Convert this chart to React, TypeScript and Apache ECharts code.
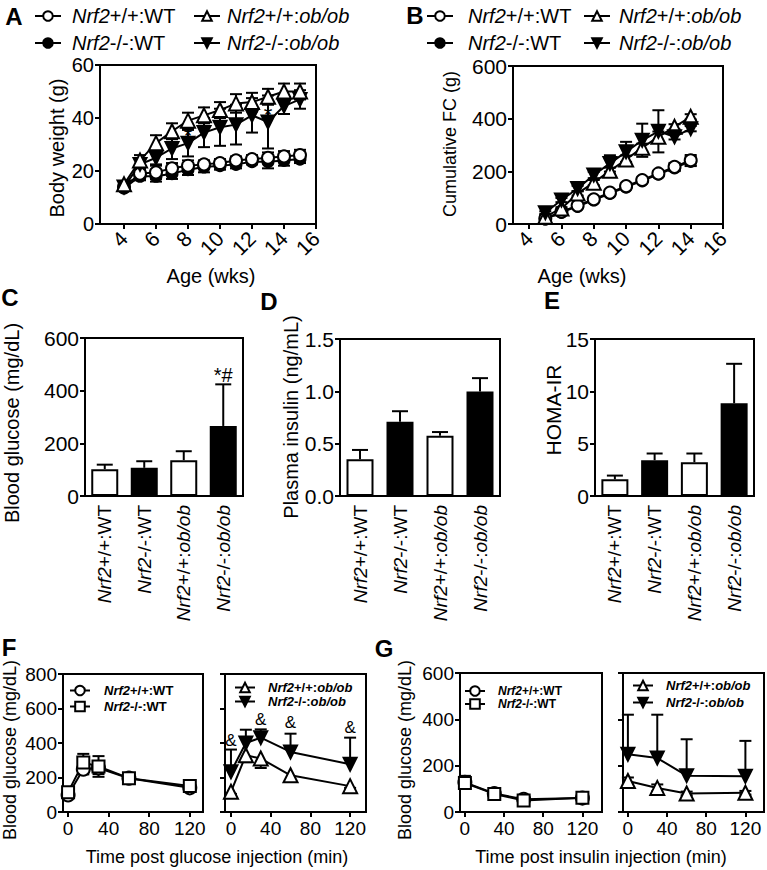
import React, { useEffect, useRef } from "react";
import * as echarts from "echarts";

const FONT = "'Liberation Sans', Arial, Helvetica, sans-serif";

// ---------- Panel A: body weight (g) ----------
const ageA = [4, 5, 6, 7, 8, 9, 10, 11, 12, 13, 14, 15];
const bwWT = [14, 19, 19.5, 21, 22, 22.5, 23, 24, 24.5, 25, 25.5, 26];
const bwWTerr = [1, 2, 2.5, 2, 2, 1.5, 1.5, 1.5, 1.5, 2, 2, 2];
const bwKO = [13.5, 18, 18, 19, 20.5, 21.5, 22, 22.5, 23.5, 23.5, 24, 24.5];
const bwKOerr = [1, 1.5, 2, 2, 2, 2, 1.5, 1.5, 1, 2.5, 2, 1.5];
const bwOb = [15, 24, 30.5, 35, 39, 41, 43, 45.5, 46, 48, 50, 50];
const bwObErr = [1, 2, 3, 3, 3, 3, 3, 3.5, 3.5, 3, 3, 3];
const bwKOob = [14, 22.5, 25, 28.5, 30.5, 34.5, 36.5, 37.5, 41, 38.5, 44.5, 47];
const bwKOobErr = [1, 2, 2.5, 4, 5, 5.5, 7, 7.5, 6.5, 10, 3, 3.5];
const starsA: [number, number, string][] = [[8, 33.5, "*"], [13, 41.5, "*"]];

// ---------- Panel B: cumulative food consumption (g) ----------
const ageB = [5, 6, 7, 8, 9, 10, 11, 12, 13, 14];
const fcWT = [21, 47, 70, 94, 119, 144, 167, 192, 217, 242];
const fcWTerr = [3, 3, 3, 4, 5, 5, 6, 8, 15, 20];
const fcKO = [19, 44, 67, 91, 116, 140, 164, 189, 213, 238];
const fcKOerr = [3, 3, 3, 4, 5, 5, 6, 8, 12, 18];
const fcOb = [28, 59, 116, 157, 202, 245, 290, 331, 369, 407];
const fcObErr = [5, 5, 8, 10, 12, 15, 15, 20, 10, 10];
const fcKOob = [43, 91, 135, 186, 230, 274, 318, 352, 331, 362];
const fcKOobErr = [5, 8, 10, 12, 31, 38, 63, 80, 10, 10];

// ---------- Panels C, D, E: bars ----------
const groups = ["Nrf2+/+:WT", "Nrf2-/-:WT", "Nrf2+/+:ob/ob", "Nrf2-/-:ob/ob"];
const groupFilled = [false, true, false, true];
const glucose = [102, 107, 136, 266];
const glucoseErr = [17, 25, 34, 158];
const starsC: [number, number, string][] = [[3, 458, "*#"]];
const insulin = [0.35, 0.71, 0.576, 0.998];
const insulinErr = [0.09, 0.1, 0.035, 0.128];
const homa = [1.6, 3.42, 3.23, 8.86];
const homaErr = [0.35, 0.64, 0.83, 3.77];

// ---------- Panel F: GTT ----------
const gttTime = [0, 15, 30, 60, 120];
const gttWT = [99, 248, 255, 196, 140];
const gttWTerr = [15, 30, 35, 15, 20];
const gttKO = [115, 287, 264, 196, 151];
const gttKOerr = [20, 50, 60, 20, 20];
const gttOb = [117, 329, 310, 213, 150];
const gttObErr = [12, 40, 55, 35, 10];
const gttKOob = [233, 400, 431, 348, 277];
const gttKOobErr = [129, 77, 48, 106, 154];
const ampF: [number, number, string][] = [[0, 412, "&"], [30, 539, "&"], [60, 516, "&"], [120, 487, "&"]];

// ---------- Panel G: ITT ----------
const ittTime = [0, 30, 60, 120];
const ittWT = [128, 80, 55, 60];
const ittWTerr = [28, 15, 10, 20];
const ittKO = [125, 78, 50, 62];
const ittKOerr = [25, 15, 10, 22];
const ittOb = [134, 104, 80, 83];
const ittObErr = [15, 15, 8, 8];
const ittKOob = [249, 233, 157, 154];
const ittKOobErr = [171, 187, 157, 153];

// tick values
const ageTicks = [4, 6, 8, 10, 12, 14, 16];
const minTicks = [0, 40, 80, 120];

// ---------- helpers ----------
function richName(s: string) {
  const rest = s.slice(4);
  if (rest.endsWith("ob/ob")) return `{i|Nrf2}{n|${rest.slice(0, -5)}}{i|ob/ob}`;
  return `{i|Nrf2}{n|${rest}}`;
}

const legendNames: Record<string, string> = {};

function lineSeries(name: string, display: string, gi: number, xs: number[], ys: number[], symbol: string, filled: boolean, size: number, rotate = 0) {
  legendNames[name] = display;
  return {
    type: "line",
    name,
    xAxisIndex: gi,
    yAxisIndex: gi,
    data: xs.map((x, i) => [x, ys[i]]),
    symbol,
    symbolSize: size,
    symbolRotate: rotate,
    showAllSymbol: true,
    lineStyle: { color: "#000", width: 2 },
    itemStyle: { color: filled ? "#000" : "#fff", borderColor: "#000", borderWidth: 2 },
    z: 3,
    silent: true,
  };
}

function errSeries(gi: number, xs: number[], ys: number[], errs: number[], mode: "both" | "up" | "down", cap: number) {
  const data = xs.map((x, i) => [x, mode === "up" ? ys[i] : ys[i] - errs[i], mode === "down" ? ys[i] : ys[i] + errs[i]]);
  return {
    type: "custom",
    xAxisIndex: gi,
    yAxisIndex: gi,
    data,
    z: 1,
    silent: true,
    renderItem: (_p: any, api: any) => {
      const x = api.value(0);
      const a = api.coord([x, api.value(1)]);
      const b = api.coord([x, api.value(2)]);
      const st = { stroke: "#000", lineWidth: 2 };
      const ch: any[] = [{ type: "line", shape: { x1: a[0], y1: a[1], x2: b[0], y2: b[1] }, style: st }];
      if (mode !== "down") ch.push({ type: "line", shape: { x1: b[0] - cap / 2, y1: b[1], x2: b[0] + cap / 2, y2: b[1] }, style: st });
      if (mode !== "up") ch.push({ type: "line", shape: { x1: a[0] - cap / 2, y1: a[1], x2: a[0] + cap / 2, y2: a[1] }, style: st });
      return { type: "group", children: ch };
    },
  };
}

function textSeries(gi: number, pts: [number, number, string][], fontSize: number) {
  return {
    type: "custom",
    xAxisIndex: gi,
    yAxisIndex: gi,
    data: pts.map((p) => [p[0], p[1]]),
    z: 5,
    silent: true,
    renderItem: (params: any, api: any) => {
      const c = api.coord([api.value(0), api.value(1)]);
      return {
        type: "text",
        x: c[0],
        y: c[1],
        style: {
          text: pts[params.dataIndex][2],
          fill: "#000",
          font: `${fontSize}px ${FONT}`,
          align: "center",
          verticalAlign: "middle",
          textAlign: "center",
          textVerticalAlign: "middle",
        },
      };
    },
  };
}

function barSeries(gi: number, vals: number[]) {
  return {
    type: "bar",
    xAxisIndex: gi,
    yAxisIndex: gi,
    barWidth: 27,
    data: vals.map((v, i) => ({ value: v, itemStyle: { color: groupFilled[i] ? "#000" : "#fff" } })),
    itemStyle: { borderColor: "#000", borderWidth: 2 },
    z: 2,
    silent: true,
  };
}

const axisLine = { show: true, onZero: false, lineStyle: { color: "#000", width: 2 } };
const tickStyle = { color: "#000", width: 2 };

function xVal(gi: number, min: number, max: number, ticks: number[], fontSize: number, rotate: number, margin: number) {
  return {
    type: "value",
    gridIndex: gi,
    min,
    max,
    axisLine,
    axisTick: { show: true, customValues: ticks, length: 5, lineStyle: tickStyle },
    axisLabel: { customValues: ticks, rotate, fontSize, color: "#000", fontFamily: FONT, margin },
    splitLine: { show: false },
  };
}

function xCat(gi: number) {
  return {
    type: "category",
    gridIndex: gi,
    data: groups,
    axisLine,
    axisTick: { show: false },
    axisLabel: {
      rotate: 90,
      margin: 9,
      interval: 0,
      formatter: (v: string) => richName(v),
      rich: {
        i: { fontStyle: "italic", fontSize: 19, fontFamily: FONT, color: "#000" },
        n: { fontSize: 19, fontFamily: FONT, color: "#000" },
      },
    },
    splitLine: { show: false },
  };
}

function yVal(gi: number, max: number, interval: number, fontSize: number, showLabel: boolean, digits = 0) {
  return {
    type: "value",
    gridIndex: gi,
    min: 0,
    max,
    interval,
    axisLine,
    axisTick: { show: true, length: 5, lineStyle: tickStyle },
    axisLabel: {
      show: showLabel,
      fontSize,
      color: "#000",
      fontFamily: FONT,
      margin: 6,
      formatter: (v: number) => v.toFixed(digits),
    },
    splitLine: { show: false },
  };
}

function legend(name: string, left: number, top: number, fontSize: number, bold: boolean, itemWidth: number, textPad: number) {
  const w = bold ? "bold" : "normal";
  const lh = Math.round(fontSize * 1.0);
  return {
    show: true,
    data: [name],
    left,
    top,
    padding: 0,
    itemWidth,
    itemHeight: 12,
    selectedMode: false,
    formatter: (n: string) => legendNames[n] || n,
    textStyle: {
      padding: [0, 0, 0, textPad],
      lineHeight: lh,
      rich: {
        i: { fontStyle: "italic", fontWeight: w, fontSize, fontFamily: FONT, color: "#000", lineHeight: lh },
        n: { fontWeight: w, fontSize, fontFamily: FONT, color: "#000", lineHeight: lh },
      },
    },
  };
}

function txt(text: string, x: number, y: number, fontSize: number, opts: any = {}) {
  return {
    type: "text",
    x,
    y,
    rotation: opts.rot || 0,
    style: {
      text,
      fill: "#000",
      font: `${opts.bold ? "bold " : ""}${fontSize}px ${FONT}`,
      align: "center",
      verticalAlign: "middle",
      textAlign: "center",
      textVerticalAlign: "middle",
    },
    silent: true,
  };
}

const grids = [
  { left: 100, top: 65, width: 216, height: 159 }, // A
  { left: 513, top: 66, width: 210, height: 158 }, // B
  { left: 85, top: 338, width: 158, height: 158 }, // C
  { left: 340, top: 339, width: 160, height: 157 }, // D
  { left: 595, top: 339, width: 159, height: 157 }, // E
  { left: 63, top: 674, width: 140, height: 138 }, // F left
  { left: 225, top: 674, width: 141, height: 138 }, // F right
  { left: 460, top: 673, width: 142, height: 139 }, // G left
  { left: 623, top: 673, width: 141, height: 139 }, // G right
].map((g) => ({ ...g, show: true, borderColor: "#000", borderWidth: 2, containLabel: false }));

function buildOption() {
  const series: any[] = [
    // A
    errSeries(0, ageA, bwKO, bwKOerr, "both", 12),
    errSeries(0, ageA, bwWT, bwWTerr, "both", 12),
    errSeries(0, ageA, bwKOob, bwKOobErr, "both", 12),
    errSeries(0, ageA, bwOb, bwObErr, "both", 12),
    lineSeries("A_ko", richName("Nrf2-/-:WT"), 0, ageA, bwKO, "circle", true, 11),
    lineSeries("A_wt", richName("Nrf2+/+:WT"), 0, ageA, bwWT, "circle", false, 12),
    lineSeries("A_koob", richName("Nrf2-/-:ob/ob"), 0, ageA, bwKOob, "triangle", true, 13, 180),
    lineSeries("A_ob", richName("Nrf2+/+:ob/ob"), 0, ageA, bwOb, "triangle", false, 14),
    textSeries(0, starsA, 22),
    // B
    errSeries(1, ageB, fcKO, fcKOerr, "both", 12),
    errSeries(1, ageB, fcWT, fcWTerr, "both", 12),
    errSeries(1, ageB, fcOb, fcObErr, "both", 12),
    errSeries(1, ageB, fcKOob, fcKOobErr, "both", 12),
    lineSeries("B_ko", richName("Nrf2-/-:WT"), 1, ageB, fcKO, "circle", true, 11),
    lineSeries("B_wt", richName("Nrf2+/+:WT"), 1, ageB, fcWT, "circle", false, 12),
    lineSeries("B_ob", richName("Nrf2+/+:ob/ob"), 1, ageB, fcOb, "triangle", false, 14),
    lineSeries("B_koob", richName("Nrf2-/-:ob/ob"), 1, ageB, fcKOob, "triangle", true, 13, 180),
    // C, D, E
    barSeries(2, glucose),
    errSeries(2, [0, 1, 2, 3], glucose, glucoseErr, "up", 16),
    textSeries(2, starsC, 20),
    barSeries(3, insulin),
    errSeries(3, [0, 1, 2, 3], insulin, insulinErr, "up", 16),
    barSeries(4, homa),
    errSeries(4, [0, 1, 2, 3], homa, homaErr, "up", 16),
    // F left
    errSeries(5, gttTime, gttWT, gttWTerr, "both", 12),
    errSeries(5, gttTime, gttKO, gttKOerr, "both", 12),
    lineSeries("F_wt", richName("Nrf2+/+:WT"), 5, gttTime, gttWT, "circle", false, 13),
    lineSeries("F_ko", richName("Nrf2-/-:WT"), 5, gttTime, gttKO, "rect", false, 12),
    // F right
    errSeries(6, gttTime, gttOb, gttObErr, "down", 12),
    errSeries(6, gttTime, gttKOob, gttKOobErr, "up", 12),
    lineSeries("F_ob", richName("Nrf2+/+:ob/ob"), 6, gttTime, gttOb, "triangle", false, 14),
    lineSeries("F_koob", richName("Nrf2-/-:ob/ob"), 6, gttTime, gttKOob, "triangle", true, 13, 180),
    textSeries(6, ampF, 17),
    // G left
    errSeries(7, ittTime, ittWT, ittWTerr, "both", 12),
    errSeries(7, ittTime, ittKO, ittKOerr, "both", 12),
    lineSeries("G_wt", richName("Nrf2+/+:WT"), 7, ittTime, ittWT, "circle", false, 13),
    lineSeries("G_ko", richName("Nrf2-/-:WT"), 7, ittTime, ittKO, "rect", false, 12),
    // G right
    errSeries(8, ittTime, ittOb, ittObErr, "both", 12),
    errSeries(8, ittTime, ittKOob, ittKOobErr, "up", 12),
    lineSeries("G_ob", richName("Nrf2+/+:ob/ob"), 8, ittTime, ittOb, "triangle", false, 14),
    lineSeries("G_koob", richName("Nrf2-/-:ob/ob"), 8, ittTime, ittKOob, "triangle", true, 13, 180),
  ];

  const xAxis = [
    xVal(0, 2.5, 16, ageTicks, 21, 45, 11),
    xVal(1, 3, 16, ageTicks, 21, 45, 11),
    xCat(2),
    xCat(3),
    xCat(4),
    xVal(5, -5, 133, minTicks, 19, 0, 7),
    xVal(6, -6, 136, minTicks, 19, 0, 7),
    xVal(7, -5, 140, minTicks, 19, 0, 7),
    xVal(8, -5, 139, minTicks, 19, 0, 7),
  ];
  const yAxis = [
    yVal(0, 60, 20, 20, true),
    yVal(1, 600, 200, 21, true),
    yVal(2, 600, 200, 21, true),
    yVal(3, 1.5, 0.5, 21, true, 1),
    yVal(4, 15, 5, 21, true),
    yVal(5, 800, 200, 19, true),
    yVal(6, 800, 200, 19, false),
    yVal(7, 600, 200, 19, true),
    yVal(8, 600, 200, 19, false),
  ];

  const legends = [
    legend("A_wt", 34, 6, 20, false, 26, 6),
    legend("A_ko", 34, 33, 20, false, 26, 6),
    legend("A_ob", 193, 6, 20, false, 26, 2),
    legend("A_koob", 193, 33, 20, false, 26, 2),
    legend("B_wt", 426, 6, 20, false, 26, 10),
    legend("B_ko", 426, 33, 20, false, 26, 10),
    legend("B_ob", 583, 6, 20, false, 26, 4),
    legend("B_koob", 583, 33, 20, false, 26, 4),
    legend("F_wt", 69, 684, 13, true, 20, 9),
    legend("F_ko", 69, 700, 13, true, 20, 9),
    legend("F_ob", 234, 681, 13, true, 20, 8),
    legend("F_koob", 234, 695, 13, true, 20, 8),
    legend("G_wt", 464, 685, 12, true, 20, 8),
    legend("G_ko", 464, 698, 12, true, 20, 8),
    legend("G_ob", 632, 679, 13, true, 20, 8),
    legend("G_koob", 632, 696, 13, true, 20, 8),
  ];

  const R = Math.PI / 2;
  const graphic = [
    txt("A", 14, 16, 24, { bold: true }),
    txt("B", 415, 15, 24, { bold: true }),
    txt("C", 10, 297, 24, { bold: true }),
    txt("D", 269, 301, 24, { bold: true }),
    txt("E", 552, 300, 24, { bold: true }),
    txt("F", 9, 647, 24, { bold: true }),
    txt("G", 384, 648, 24, { bold: true }),
    txt("Body weight (g)", 57, 148, 20, { rot: R }),
    txt("Cumulative FC (g)", 450, 144, 18, { rot: R }),
    txt("Blood glucose (mg/dL)", 12, 423, 20, { rot: R }),
    txt("Plasma insulin (ng/mL)", 291, 417, 20, { rot: R }),
    txt("HOMA-IR", 553, 410, 21, { rot: R }),
    txt("Blood glucose (mg/dL)", 10, 750, 18, { rot: R }),
    txt("Blood glucose (mg/dL)", 405, 750, 18, { rot: R }),
    txt("Age (wks)", 211, 276, 20),
    txt("Age (wks)", 582, 276, 20),
    txt("Time post glucose injection (min)", 217, 857, 18),
    txt("Time post insulin injection (min)", 601, 857, 18),
  ];

  return {
    animation: false,
    backgroundColor: "#fff",
    textStyle: { fontFamily: FONT },
    grid: grids,
    xAxis,
    yAxis,
    legend: legends,
    series,
    graphic,
  };
}

export default function App() {
  const ref = useRef<HTMLDivElement>(null);
  useEffect(() => {
    if (!ref.current) return;
    const chart = echarts.init(ref.current, null, { renderer: "svg" });
    chart.setOption(buildOption() as any);
    return () => chart.dispose();
  }, []);
  return (
    <div
      ref={ref}
      style={{ position: "fixed", left: 0, top: 0, width: 767, height: 870, background: "#fff" }}
    />
  );
}
